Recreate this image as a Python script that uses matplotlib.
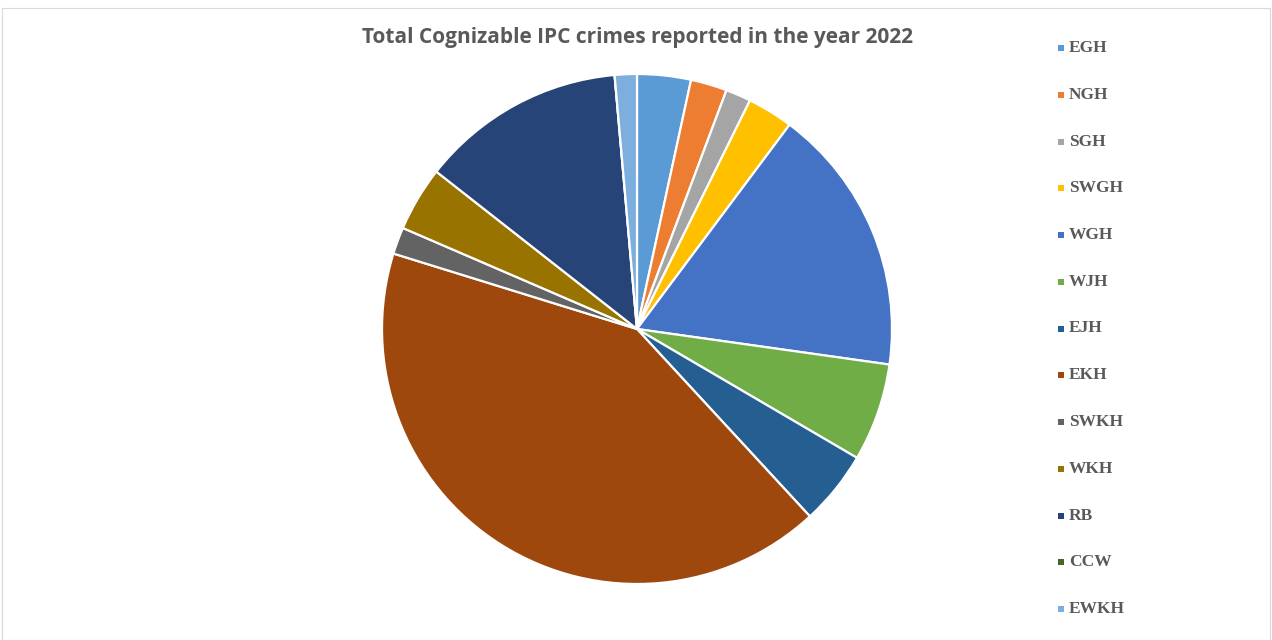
import matplotlib
matplotlib.use("Agg")
import matplotlib.pyplot as plt
from matplotlib.patches import Rectangle

labels = ["EGH", "NGH", "SGH", "SWGH", "WGH", "WJH", "EJH", "EKH", "SWKH", "WKH", "RB", "CCW", "EWKH"]
values = [3.4, 2.3, 1.6, 2.9, 17.0, 6.2, 4.7, 41.6, 1.7, 4.1, 13.0, 0.0, 1.4]
colors = ["#5B9BD5", "#ED7D31", "#A5A5A5", "#FFC000", "#4472C4", "#70AD47", "#255E91",
          "#9E480E", "#636363", "#997300", "#264478", "#43682B", "#7CAFDD"]
title = "Total Cognizable IPC crimes reported in the year 2022"

W, H = 1272, 640
fig = plt.figure(figsize=(W / 100, H / 100), dpi=100)
fig.patch.set_facecolor("white")

# border
fig.patches.append(Rectangle((2 / W, 0), (W - 4) / W, (H - 8) / H, transform=fig.transFigure,
                             fill=False, edgecolor="#D9D9D9", linewidth=0.8))

cx, cy, r = 637, 329, 255
ax = fig.add_axes([(cx - r) / W, (H - cy - r) / H, 2 * r / W, 2 * r / H])
ax.pie(values, colors=colors, startangle=90, counterclock=False, radius=1,
       wedgeprops=dict(edgecolor="white", linewidth=1.6))
ax.set_xlim(-1, 1)
ax.set_ylim(-1, 1)
ax.set_aspect("equal")
ax.axis("off")

fig.text(637 / W, 1 - 38 / H, title, ha="center", va="center", fontsize=15,
         fontweight="bold", color="#595959", family="Open Sans")

# legend
y0, dy = 48, 46.75
for i, (lab, col) in enumerate(zip(labels, colors)):
    y = y0 + i * dy
    fig.patches.append(Rectangle((1058 / W, 1 - (y + 3) / H), 6 / W, 6 / H,
                                 transform=fig.transFigure, facecolor=col, edgecolor="none"))
    fig.text(1069 / W, 1 - y / H, lab, ha="left", va="center", fontsize=12.5,
             fontweight="bold", color="#595959", family="Liberation Serif")

fig.savefig("out.png", dpi=100)
